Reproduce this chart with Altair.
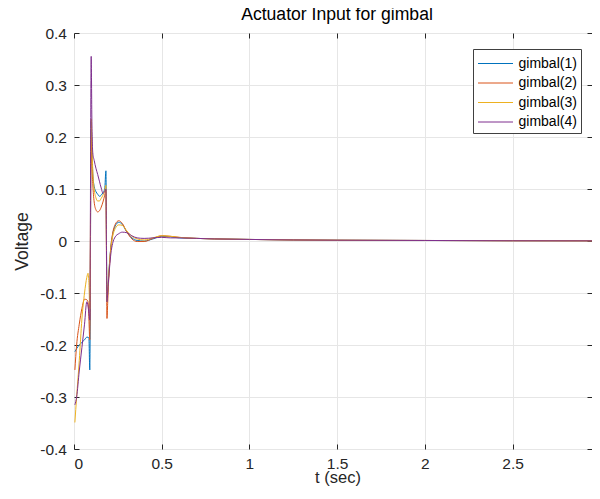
import altair as alt
import pandas as pd

# ---- data ----
T = [0.005, 0.015, 0.03, 0.045, 0.06, 0.073, 0.08, 0.085, 0.09, 0.098,
     0.102, 0.107, 0.115, 0.125, 0.135, 0.145, 0.155, 0.165, 0.175, 0.182,
     0.188, 0.192, 0.197, 0.203, 0.21, 0.22, 0.235, 0.255, 0.275, 0.3,
     0.33, 0.36, 0.4, 0.45, 0.5, 0.55, 0.6, 0.7, 0.8, 1.0,
     1.25, 1.5, 2.0, 2.5, 3.0]

G1 = [-0.213, -0.207, -0.2, -0.195, -0.19, -0.185, -0.185, -0.187, -0.248, 0.23,
      0.18, 0.13, 0.105, 0.095, 0.09, 0.086, 0.088, 0.093, 0.1, 0.135,
      -0.117, -0.1, -0.07, -0.04, -0.012, 0.012, 0.029, 0.036, 0.032, 0.018,
      0.006, 0.001, 0.0, 0.004, 0.009, 0.008, 0.006, 0.005, 0.004, 0.003,
      0.002, 0.0015, 0.001, 0.0005, 0.0003]

G2 = [-0.248, -0.2, -0.16, -0.13, -0.112, -0.113, -0.117, -0.15, -0.19, 0.2,
      0.15, 0.11, 0.075, 0.06, 0.056, 0.058, 0.065, 0.075, 0.088, 0.098,
      -0.149, -0.12, -0.08, -0.045, -0.012, 0.014, 0.032, 0.039, 0.034, 0.018,
      0.004, -0.001, -0.001, 0.005, 0.01, 0.009, 0.007, 0.005, 0.004, 0.003,
      0.002, 0.0015, 0.001, 0.0005, 0.0003]

G3 = [-0.349, -0.3, -0.23, -0.15, -0.1, -0.07, -0.062, -0.08, -0.13, 0.235,
      0.19, 0.135, 0.1, 0.083, 0.077, 0.077, 0.082, 0.088, 0.097, 0.107,
      -0.117, -0.1, -0.07, -0.04, -0.015, 0.008, 0.024, 0.031, 0.03, 0.02,
      0.009, 0.004, 0.002, 0.006, 0.01, 0.009, 0.007, 0.005, 0.004, 0.003,
      0.002, 0.0015, 0.001, 0.0005, 0.0003]

G4 = [-0.315, -0.3, -0.25, -0.205, -0.16, -0.117, -0.125, -0.14, -0.152, 0.355,
      0.23, 0.17, 0.155, 0.14, 0.128, 0.115, 0.102, 0.092, 0.095, 0.1,
      -0.117, -0.1, -0.075, -0.05, -0.025, -0.005, 0.008, 0.014, 0.017, 0.016,
      0.01, 0.006, 0.005, 0.006, 0.007, 0.006, 0.006, 0.005, 0.004, 0.003,
      0.002, 0.0015, 0.001, 0.0005, 0.0003]

NAMES = ["gimbal(1)", "gimbal(2)", "gimbal(3)", "gimbal(4)"]
COLORS = ["#0072BD", "#D95319", "#EDB120", "#7E2F8E"]
X_TICKS = [0, 0.5, 1, 1.5, 2, 2.5, 3]
Y_TICKS = [-0.4, -0.3, -0.2, -0.1, 0, 0.1, 0.2, 0.3, 0.4]
X_MAX_VISIBLE = 2.953   # the reference crops the right edge just before t = 3

rows = []
for i, (name, vals) in enumerate(zip(NAMES, [G1, G2, G3, G4])):
    for t, v in zip(T, vals):
        rows.append({"t": t, "v": v, "series": name, "order": i})
df = pd.DataFrame(rows)

FONT = "Liberation Sans"
INK = "#262626"
W, H = 518, 416

xs = alt.Scale(domain=[0, X_MAX_VISIBLE], nice=False, zero=False)
ys = alt.Scale(domain=[-0.4, 0.4], nice=False, zero=False)

base = alt.Chart(df)

lines = base.mark_line(strokeWidth=1, clip=True, interpolate="monotone").encode(
    x=alt.X("t:Q", scale=xs, axis=alt.Axis(
        orient="bottom", values=X_TICKS, title="t (sec)", grid=True, ticks=False,
        domain=False, labelExpr="datum.value + ''", labelFont=FONT, labelFontSize=15.5,
        labelColor=INK, labelPadding=7.5, titleFont=FONT, titleFontSize=16.5,
        titleFontWeight="normal", titleColor=INK, titleX=263.5, titleY=33.5,
        titleBaseline="alphabetic",
        gridColor="#e6e6e6", gridWidth=1)),
    y=alt.Y("v:Q", scale=ys, axis=alt.Axis(
        orient="left", values=Y_TICKS, title="Voltage", grid=True, ticks=False,
        domain=False, labelExpr="datum.value + ''", labelFont=FONT, labelFontSize=15.5,
        labelColor=INK, labelPadding=7.5, titleFont=FONT, titleFontSize=17.6,
        titleFontWeight="normal", titleColor=INK, titlePadding=8,
        gridColor="#e6e6e6", gridWidth=1)),
    color=alt.Color("series:N", scale=alt.Scale(domain=NAMES, range=COLORS),
                    legend=alt.Legend(
                        title=None, orient="none", legendX=399, legendY=16,
                        symbolType="M-1.75,0H1.75", symbolSize=400, symbolStrokeWidth=1,
                        symbolOffset=8,
                        labelFont=FONT, labelFontSize=14, labelColor="black",
                        labelOffset=12.5, fillColor="white", strokeColor="#404040",
                        padding=4, rowPadding=1.5)),
    order=alt.Order("order:Q"),
)

# inward ticks on bottom / left
ticks_a = base.mark_line(opacity=0).encode(
    x=alt.X("t:Q", scale=xs, axis=alt.Axis(
        orient="top", offset=-H, values=X_TICKS, labels=False, grid=False,
        domain=False, ticks=True, tickSize=5, tickColor=INK, title=None)),
    y=alt.Y("v:Q", scale=ys, axis=alt.Axis(
        orient="right", offset=-W, values=Y_TICKS, labels=False, grid=False,
        domain=False, ticks=True, tickSize=5, tickColor=INK, title=None)),
    detail="series:N",
)

# inward ticks on top / right
ticks_b = base.mark_line(opacity=0).encode(
    x=alt.X("t:Q", scale=xs, axis=alt.Axis(
        orient="bottom", offset=-H, values=X_TICKS, labels=False, grid=False,
        domain=False, ticks=True, tickSize=5, tickColor=INK, title=None)),
    y=alt.Y("v:Q", scale=ys, axis=alt.Axis(
        orient="left", offset=-W, values=Y_TICKS, labels=False, grid=False,
        domain=False, ticks=True, tickSize=5, tickColor=INK, title=None)),
    detail="series:N",
)

chart = alt.layer(lines, ticks_a, ticks_b).resolve_scale(
    x="independent", y="independent"
).properties(
    width=W, height=H,
    autosize=alt.AutoSizeParams(type="none"),
    padding={"left": 66, "top": 25, "right": 0, "bottom": 37},
    title=alt.Title("Actuator Input for gimbal", font=FONT, fontSize=17.6,
                    fontWeight="normal", color="black", offset=2, dx=4),
).configure_view(stroke=INK, strokeWidth=1).configure(background="white")

chart.save("out.html", embed_options={"renderer": "svg", "actions": False})
